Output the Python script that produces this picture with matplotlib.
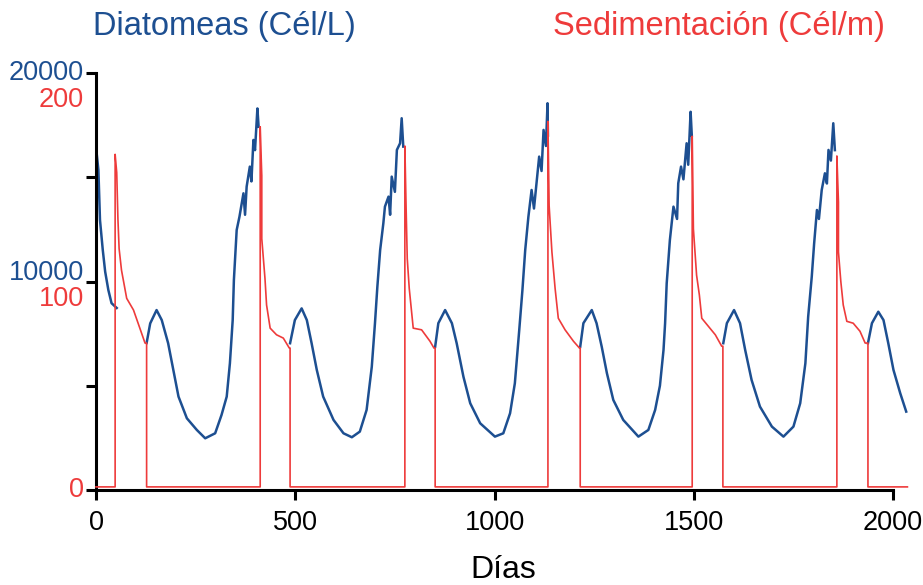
import numpy as np
import matplotlib
matplotlib.use("Agg")
import matplotlib.pyplot as plt

plt.rcParams['font.family'] = ['Liberation Sans', 'DejaVu Sans']

BLUE = '#1d4f91'
RED = '#ee3b3b'

# Diatomeas (Cél/L); nan marks where the sedimentation line covers the curve
dia_days = [0, 6, 10, 17, 23, 31, 39, 52, np.nan,
            127, 136, 152, 165, 181, 194, 207, 228, 253, 274, 299, 315, 328, 336, 343,
            346, 353, 360, 370, 374, 378, 386, 390, 395, 399, 405, 408, np.nan,
            487, 499, 516, 529, 541, 554, 570, 596, 621, 642, 662, 679, 692, 700,
            706, 713, 721, 725, 734, 738, 742, 750, 755, 763, 767, 771, np.nan,
            851, 859, 876, 893, 905, 922, 939, 964, 1001, 1022, 1039, 1051, 1062, 1070,
            1077, 1085, 1093, 1099, 1106, 1112, 1118, 1123, 1129, 1133, 1134, np.nan,
            1215, 1223, 1244, 1256, 1269, 1282, 1298, 1323, 1361, 1386, 1403, 1415, 1424,
            1428, 1432, 1440, 1449, 1458, 1461, 1468, 1474, 1482, 1486, 1492, 1495, np.nan,
            1574, 1583, 1601, 1616, 1629, 1645, 1666, 1696, 1725, 1750, 1767, 1780, 1787,
            1796, 1802, 1809, 1814, 1821, 1829, 1834, 1838, 1844, 1850, 1854, np.nan,
            1937, 1947, 1963, 1976, 1988, 2001, 2018, 2033]
dia_vals = [16460, 15350, 12950, 11510, 10470, 9590, 8960, 8730, np.nan,
            7050, 7990, 8630, 8150, 7040, 5760, 4480, 3440, 2880, 2480, 2720, 3600, 4480, 6080, 8150,
            10070, 12470, 13110, 14230, 13200, 14550, 15510, 14800, 16790, 16300, 18300, 17420, np.nan,
            7040, 8150, 8710, 8150, 7040, 5760, 4480, 3360, 2720, 2530, 2800, 3840, 5910, 8000,
            9750, 11510, 12790, 13590, 14070, 13200, 15030, 14300, 16310, 16630, 17830, 16470, np.nan,
            6870, 8000, 8630, 8000, 7040, 5430, 4160, 3200, 2560, 2720, 3680, 5120, 7670, 9590,
            11510, 13110, 14390, 13500, 14870, 15990, 15300, 17270, 16500, 18550, 17000, np.nan,
            6870, 8000, 8630, 8000, 6870, 5600, 4320, 3360, 2560, 2880, 3840, 5000, 6710,
            8000, 9910, 11990, 13590, 13000, 14710, 15510, 14900, 16630, 15600, 18140, 17000, np.nan,
            7040, 8000, 8630, 8000, 6710, 5280, 4000, 3040, 2560, 3040, 4160, 6080, 8310,
            10230, 11830, 13430, 13000, 14390, 15190, 14700, 16310, 15800, 17590, 16300, np.nan,
            7040, 8000, 8550, 8150, 7040, 5760, 4640, 3760]

# Sedimentación (Cél/m)
sed_days = [0, 48, 48, 52, 55, 58, 64, 77, 94, 110, 123, 127, 127,
            412, 412, 416, 416, 424, 428, 437, 453, 470, 485, 487, 487,
            775, 775, 778, 781, 786, 796, 817, 838, 848, 851, 851,
            1134, 1134, 1137, 1144, 1152, 1160, 1177, 1198, 1213, 1215, 1215,
            1496, 1496, 1499, 1507, 1514, 1520, 1537, 1554, 1570, 1573, 1573,
            1859, 1859, 1863, 1863, 1869, 1875, 1884, 1900, 1917, 1930, 1937, 1937, 2036]
sed_vals = [0, 0, 160.7, 151.9, 129.5, 115.1, 104.7, 91.1, 85.5, 76.7, 69.5, 69.5, 0,
            0, 174.0, 150.3, 119.9, 100.7, 87.9, 76.7, 73.5, 71.9, 67.1, 67.1, 0,
            0, 164.7, 135.9, 110.3, 95.9, 76.7, 75.9, 70.4, 67.1, 67.1, 0,
            0, 176.6, 135.9, 113.5, 95.9, 81.5, 75.9, 70.4, 67.1, 67.1, 0,
            0, 169.4, 124.7, 102.3, 92.7, 81.5, 77.5, 73.5, 68.0, 68.0, 0,
            0, 159.9, 137.5, 113.5, 99.1, 87.9, 80.0, 79.1, 75.2, 69.5, 69.5, 0, 0]

x_ticks = [0, 500, 1000, 1500, 2000]
dia_ticks = [0, 5000, 10000, 15000, 20000]

fig = plt.figure(figsize=(9.23, 5.85), dpi=100)
ax = fig.add_axes([96 / 923, 95 / 585, (909 - 96) / 923, (490 - 73) / 585])

ax.plot(dia_days, dia_vals, color=BLUE, lw=1.8, zorder=2)
ax.set_xlim(0, 2040)
ax.set_ylim(0, 20000)

ax2 = ax.twinx()
ax2.plot(sed_days, sed_vals, color=RED, lw=1.2, clip_on=False, zorder=3)
ax2.set_ylim(-1.5, 200)
ax2.axis('off')

for s in ['top', 'right']:
    ax.spines[s].set_visible(False)
ax.spines['left'].set_linewidth(2.2)
ax.spines['bottom'].set_linewidth(2.2)
ax.spines['left'].set_bounds(0, 20000)
ax.spines['bottom'].set_bounds(0, 2000)

ax.set_xticks(x_ticks)
ax.set_xticklabels([str(t) for t in x_ticks])
ax.set_yticks(dia_ticks)
ax.set_yticklabels([])
ax.tick_params(axis='both', direction='out', length=7, width=2.2, color='black')
ax.tick_params(axis='x', labelsize=19.5, pad=7.5)

# axis numbers for both series, stacked as in the original
ytr = ax.get_yaxis_transform()
lab_kw = dict(xycoords=ytr, textcoords='offset pixels', ha='right', va='center', fontsize=19.5)
ax.annotate('20000', xy=(0, 20000), xytext=(-12, 0), color=BLUE, **lab_kw)
ax.annotate('200', xy=(0, 20000), xytext=(-12, -27), color=RED, **lab_kw)
ax.annotate('10000', xy=(0, 10000), xytext=(-12, 8), color=BLUE, **lab_kw)
ax.annotate('100', xy=(0, 10000), xytext=(-12, -17), color=RED, **lab_kw)
ax.annotate('0', xy=(0, 0), xytext=(-12, 0), color=RED, **lab_kw)

fig.text(93 / 923, 1 - 27 / 585, 'Diatomeas (Cél/L)', color=BLUE, fontsize=23.5,
         ha='left', va='center')
fig.text(885 / 923, 1 - 27 / 585, 'Sedimentación (Cél/m)', color=RED, fontsize=23.5,
         ha='right', va='center')
fig.text(503 / 923, 1 - 570 / 585, 'Días', color='black', fontsize=23,
         ha='center', va='center')

fig.savefig('out.png', dpi=100)
